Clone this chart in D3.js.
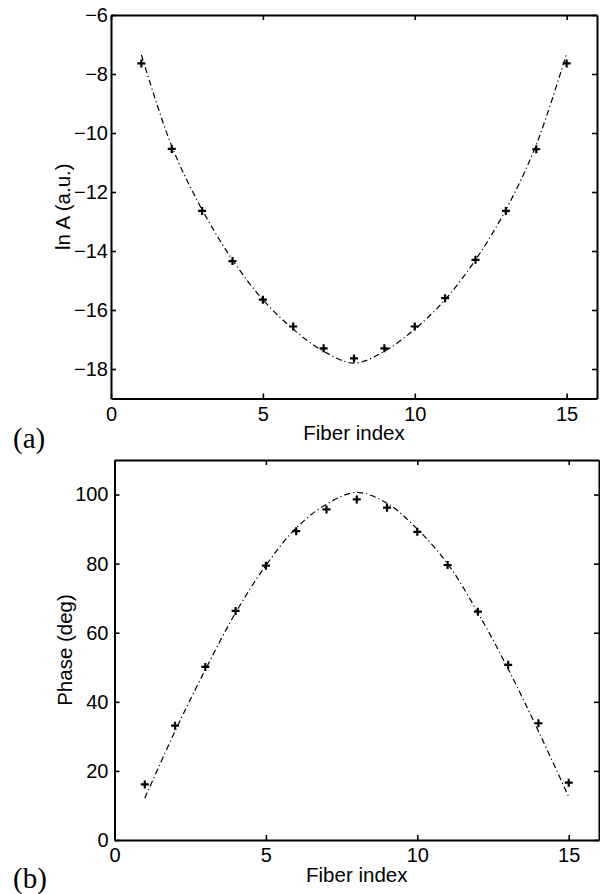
<!DOCTYPE html>
<html>
<head>
<meta charset="utf-8">
<script src="https://cdn.jsdelivr.net/npm/d3@7"></script>
<style>
  html, body { margin: 0; padding: 0; background: #fff; }
  svg { display: block; }
  text { font-family: "Liberation Sans", Arial, Helvetica, sans-serif; fill: #000; }
  .panel { font-family: "Liberation Serif", "DejaVu Serif", serif; }
</style>
</head>
<body>
<svg id="chart" width="600" height="894"></svg>
<script>
// ---- data ----
const fiberIndex = [1, 2, 3, 4, 5, 6, 7, 8, 9, 10, 11, 12, 13, 14, 15];
const lnAmeasured = [-7.64, -10.54, -12.64, -14.34, -15.65, -16.56, -17.3, -17.64, -17.3, -16.56, -15.6, -14.3, -12.64, -10.55, -7.64];
const lnAfit = [-7.35, -10.45, -12.6, -14.3, -15.65, -16.65, -17.4, -17.8, -17.4, -16.65, -15.65, -14.3, -12.6, -10.4, -7.3];
const phaseMeasured = [16.1, 33.1, 50.1, 66.3, 79.4, 89.4, 95.7, 98.6, 96.2, 89.2, 79.6, 66.1, 50.7, 33.8, 16.6];
const phaseFit = [12.1, 31.5, 49.3, 65.8, 79.5, 90.3, 97.2, 100.6, 97.5, 90.0, 80.0, 65.8, 49.5, 31.5, 12.5];
const xTicks = [0, 5, 10, 15];
const lnATicks = [-18, -16, -14, -12, -10, -8, -6];
const phaseTicks = [0, 20, 40, 60, 80, 100];

const svg = d3.select("#chart");
const fmt = d3.format("d");

function panel(cfg) {
  const x = d3.scaleLinear().domain(cfg.xDomain).range(cfg.xRange);
  const y = d3.scaleLinear().domain(cfg.yDomain).range(cfg.yRange);
  const g = svg.append("g");
  const [x0, x1] = cfg.xRange;

  // axes with inward ticks
  const bottom = g.append("g").attr("transform", `translate(0,${cfg.yRange[0]})`)
    .call(d3.axisBottom(x).tickValues(xTicks).tickFormat(fmt).tickSizeInner(-5).tickSizeOuter(0).tickPadding(8));
  const top = g.append("g").attr("transform", `translate(0,${cfg.yRange[1]})`)
    .call(d3.axisTop(x).tickValues(xTicks).tickFormat("").tickSizeInner(-5).tickSizeOuter(0));
  const left = g.append("g").attr("transform", `translate(${cfg.xRange[0]},0)`)
    .call(d3.axisLeft(y).tickValues(cfg.yTicks).tickFormat(fmt).tickSizeInner(-5).tickSizeOuter(0).tickPadding(cfg.yPad));
  const right = g.append("g").attr("transform", `translate(${cfg.xRange[1]},0)`)
    .call(d3.axisRight(y).tickValues(cfg.yTicks).tickFormat("").tickSizeInner(-5).tickSizeOuter(0));
  [bottom, top, left, right].forEach(a => {
    a.selectAll(".domain").attr("stroke", "#000").attr("stroke-width", 2);
    a.selectAll(".tick line").attr("stroke", "#000").attr("stroke-width", 1.6);
    a.selectAll("text").attr("font-size", 20).attr("font-family", "Liberation Sans, Arial, sans-serif").attr("fill", "#000");
  });
  bottom.selectAll("text").attr("dy", "0.71em");

  // fit line (dash-dot)
  const line = d3.line().x((d, i) => x(fiberIndex[i])).y(d => y(d)).curve(d3.curveCatmullRom.alpha(0.5));
  g.append("path").datum(cfg.fit).attr("d", line)
    .attr("fill", "none").attr("stroke", "#000").attr("stroke-width", 1.2)
    .attr("stroke-dasharray", "6,3,1.2,3");

  // '+' markers
  const s = 4;
  g.selectAll("path.mk").data(cfg.meas).join("path").attr("class", "mk")
    .attr("d", (d, i) => {
      const cx = x(fiberIndex[i]), cy = y(d);
      return `M${cx - s},${cy}H${cx + s}M${cx},${cy - s}V${cy + s}`;
    })
    .attr("stroke", "#000").attr("stroke-width", 2.2).attr("fill", "none");

  // labels
  g.append("text").attr("x", (x0 + x1) / 2).attr("y", cfg.xLabelY)
    .attr("text-anchor", "middle").attr("font-size", 20.5).text("Fiber index");
  g.append("text").attr("transform", `translate(${cfg.yLabelX},${(cfg.yRange[0] + cfg.yRange[1]) / 2}) rotate(-90)`)
    .attr("text-anchor", "middle").attr("font-size", 20.5).text(cfg.yLabel);
  g.append("text").attr("class", "panel").attr("x", 13).attr("y", cfg.panelY)
    .attr("font-size", 29).text(cfg.panelLabel);
}

panel({
  xDomain: [0, 16], xRange: [111, 597],
  yDomain: [-19, -6], yRange: [398.5, 15],
  yTicks: lnATicks, yPad: 3,
  meas: lnAmeasured, fit: lnAfit,
  xLabelY: 440, yLabelX: 70, yLabel: "ln A (a.u.)",
  panelLabel: "(a)", panelY: 448
});

panel({
  xDomain: [0, 16], xRange: [114.5, 599],
  yDomain: [0, 110], yRange: [840, 460],
  yTicks: phaseTicks, yPad: 6,
  meas: phaseMeasured, fit: phaseFit,
  xLabelY: 882, yLabelX: 72, yLabel: "Phase (deg)",
  panelLabel: "(b)", panelY: 888
});
</script>
</body>
</html>
